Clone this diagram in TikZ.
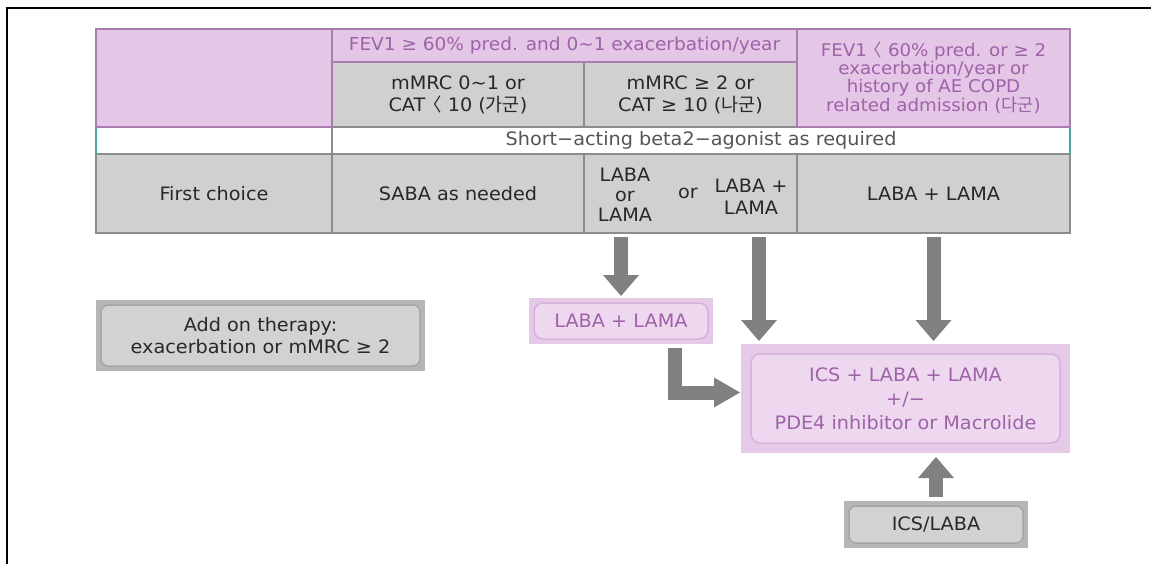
\documentclass[tikz,border=0pt]{standalone}
\usepackage{fontspec}
\setmainfont[FakeStretch=1.04]{DejaVu Sans}
\newfontfamily\kr{Noto Sans CJK KR}
\usetikzlibrary{arrows.meta}

\begin{document}
\begin{tikzpicture}[x=1pt,y=-1pt,
  cellBase/.style={inner sep=0pt, outer sep=0pt, line width=1.5pt, align=center,
    font=\fontsize{18.5}{22}\selectfont},
  cellPink/.style={cellBase, draw=purpleLine, fill=pinkFill, text=purpleText},
  cellGray/.style={cellBase, draw=grayLine, fill=grayFill, text=darkText},
  cellWhite/.style={cellBase, draw=grayLine, fill=white, text=grayText},
  boxPink/.style={inner sep=0pt, outer sep=0pt, fill=pinkOuter, text=purpleText, align=center,
    font=\fontsize{18.5}{24}\selectfont,
    path picture={\draw[draw=pinkEdge, fill=pinkInner, line width=1.5pt, rounded corners=9pt]
      ([shift={(#1,#1)}]path picture bounding box.north west) rectangle
      ([shift={(-#1,-#1)}]path picture bounding box.south east);}},
  boxGray/.style={inner sep=0pt, outer sep=0pt, fill=grayOuter, text=darkText, align=center,
    font=\fontsize{18.5}{22}\selectfont,
    path picture={\draw[draw=grayEdge, fill=grayInner, line width=1.5pt, rounded corners=7pt]
      ([shift={(5,5)}]path picture bounding box.north west) rectangle
      ([shift={(-5,-5)}]path picture bounding box.south east);}},
  bigArrow/.style={draw=arrowColor, line width=14pt,
    -{Triangle[width=36pt,length=21pt,line width=0pt]}}
]
\definecolor{pinkFill}{RGB}{228,198,230}
\definecolor{purpleLine}{RGB}{170,125,175}
\definecolor{purpleText}{RGB}{158,98,168}
\definecolor{grayFill}{RGB}{208,208,208}
\definecolor{grayLine}{RGB}{140,140,140}
\definecolor{darkText}{RGB}{40,40,40}
\definecolor{grayText}{RGB}{85,85,85}
\definecolor{tealLine}{RGB}{70,170,170}
\definecolor{pinkOuter}{RGB}{229,202,232}
\definecolor{pinkInner}{RGB}{237,216,239}
\definecolor{pinkEdge}{RGB}{214,178,218}
\definecolor{grayOuter}{RGB}{182,182,182}
\definecolor{grayInner}{RGB}{210,210,212}
\definecolor{grayEdge}{RGB}{165,165,165}
\definecolor{arrowColor}{RGB}{128,128,128}
\path[use as bounding box,fill=white] (0,0) rectangle (1151,564);

% frame
\draw[black,line width=1.6pt] (7,564) -- (7,8) -- (1151,8);

% table: rows 2 and 3
\node[cellWhite, minimum width=236pt, minimum height=27pt] (rowBlank) at (214,140.5) {};
\node[cellWhite, minimum width=738pt, minimum height=27pt] (rowSaba) at (701,140.5)
  {Short−acting beta2−agonist as required};
\node[cellGray, minimum width=236pt, minimum height=79pt] (firstChoice) at (214,193.5) {First choice};
\node[cellGray, minimum width=252pt, minimum height=79pt] (sabaCell) at (458,193.5) {SABA as needed};
\node[cellGray, minimum width=213pt, minimum height=79pt] (labaCell) at (690.5,193.5) {};
\node[cellGray, minimum width=273pt, minimum height=79pt] (dualCell) at (933.5,193.5) {LABA + LAMA};
\node[cellBase, text=darkText, font=\fontsize{18.5}{20}\selectfont] (labaOr) at (625,195) {LABA\\or\\LAMA};
\node[cellBase, text=darkText] (orWord) at (688,193) {or};
\node[cellBase, text=darkText] (labaPlus) at (751,197) {LABA +\\LAMA};
\draw[tealLine,line width=1.5pt] (rowBlank.north west) -- (rowBlank.south west);
\draw[tealLine,line width=1.5pt] (rowSaba.north east) -- (rowSaba.south east);

% table: header
\node[cellGray, minimum width=252pt, minimum height=65pt] (grpA) at (458,94.5)
  {mMRC 0\textasciitilde1 or\\CAT {\kr\hspace{-0.45em}〈} 10 ({\kr 가군})};
\node[cellGray, minimum width=213pt, minimum height=65pt] (grpB) at (690.5,94.5)
  {mMRC ≥ 2 or\\CAT ≥ 10 ({\kr 나군})};
\node[cellPink, minimum width=236pt, minimum height=98pt] (hdrBlank) at (214,78) {};
\node[cellPink, minimum width=465pt, minimum height=33pt, font=\fontsize{17.8}{20}\selectfont]
  (hdrMild) at (564.5,45.5) {FEV1 ≥ 60\% pred. and 0\textasciitilde1 exacerbation/year};
\node[cellPink, minimum width=273pt, minimum height=98pt, font=\fontsize{17.5}{18}\selectfont]
  (grpC) at (933.5,78) {FEV1 {\kr\hspace{-0.45em}〈} 60\% pred. or ≥ 2\\exacerbation/year or\\history of AE COPD\\related admission ({\kr 다군})};

% boxes
\node[boxGray, minimum width=329pt, minimum height=71pt] (addOn) at (260.5,335.5)
  {Add on therapy:\\exacerbation or mMRC ≥ 2};
\node[boxPink=5, minimum width=184pt, minimum height=46pt] (dualBox) at (621,321) {LABA + LAMA};
\node[boxPink=10, minimum width=329pt, minimum height=109pt] (tripleBox) at (905.5,398.5)
  {ICS + LABA + LAMA\\+/−\\PDE4 inhibitor or Macrolide};
\node[boxGray, minimum width=184pt, minimum height=47pt] (icsBox) at (936,524.5) {ICS/LABA};

% arrows
\draw[bigArrow, shorten <=4pt, shorten >=2pt] (labaCell.south -| dualBox.north) -- (dualBox.north);
\draw[bigArrow, shorten <=4pt, shorten >=3pt] ([xshift=18pt]tripleBox.north west |- labaCell.south)
  -- ([xshift=18pt]tripleBox.north west);
\draw[bigArrow, shorten <=4pt, shorten >=3pt] (dualCell.south) -- (dualCell.south |- tripleBox.north);
\draw[bigArrow, -{Triangle[width=30pt,length=26pt,line width=0pt]}, shorten <=4pt, shorten >=1pt]
  ([xshift=54pt]dualBox.south) |- ([yshift=6pt]tripleBox.west);
\draw[bigArrow, shorten <=4pt, shorten >=4pt] (icsBox.north) -- (icsBox.north |- tripleBox.south);
\end{tikzpicture}
\end{document}
